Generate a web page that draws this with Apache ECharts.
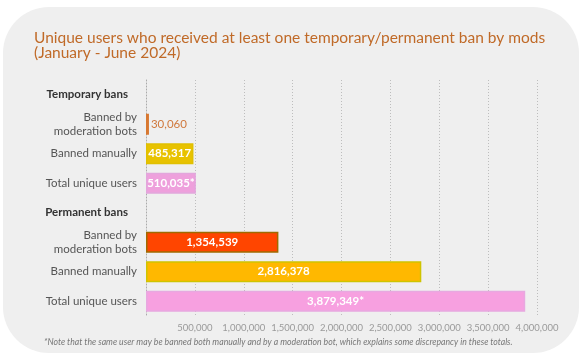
<!DOCTYPE html>
<html><head><meta charset="utf-8">
<script src="https://cdn.jsdelivr.net/npm/echarts@6/dist/echarts.min.js"></script>
<style>html,body{margin:0;padding:0;background:#fff}#c{width:582px;height:361px}</style>
</head><body><div id="c"></div>
<script>
var categories = ['Temporary bans','Banned by\nmoderation bots','Banned manually','Total unique users','Permanent bans','Banned by\nmoderation bots','Banned manually','Total unique users'];
var headerRows = [true,false,false,false,true,false,false,false];
var values = [null,30060,485317,510035,null,1354539,2816378,3879349];
var valueLabels = ['','30,060','485,317','510,035*','','1,354,539','2,816,378','3,879,349*'];
var barColors = [null,'#a9581c','#e8c200','#eea0dc',null,'#ff4500','#ffb800','#f7a0e0'];
var borderColors = [null,'#d87830','#e0c000','#e2a6dc',null,'#a06a00','#cfc400','#e8a8e0'];
var tickValues = [0,500000,1000000,1500000,2000000,2500000,3000000,3500000,4000000];

var data = values.map(function(v,i){
  if (v === null) return {value:'-'};
  var outside = i === 1;
  return {
    value: v,
    itemStyle: {color: barColors[i], borderColor: borderColors[i], borderWidth: 1.5},
    label: {
      show: true,
      position: outside ? 'right' : 'inside',
      distance: 2,
      formatter: valueLabels[i],
      color: outside ? '#d0783c' : '#ffffff',
      fontSize: 11.5,
      fontWeight: outside ? 'normal' : 'bold',
      fontFamily: 'Lato'
    }
  };
});

var chart = echarts.init(document.getElementById('c'), null, {renderer:'canvas'});
chart.setOption({
  animation: false,
  backgroundColor: '#ffffff',
  graphic: [{
    type: 'rect', z: -10, silent: true,
    shape: {x: 3, y: 7, width: 576, height: 346, r: 46},
    style: {fill: '#efefef'}
  },{
    type: 'text', z: 10, silent: true,
    style: {
      text: '*Note that the same user may be banned both manually and by a moderation bot, which explains some discrepancy in these totals.',
      x: 44, y: 342, fill: '#777', font: 'italic 8.7px Lato', textVerticalAlign: 'middle'
    }
  }],
  title: {
    text: 'Unique users who received at least one temporary/permanent ban by mods\n(January - June 2024)',
    left: 29, top: 26,
    textStyle: {color: '#c06a28', fontSize: 15.5, fontWeight: 'normal', fontFamily: 'Lato', lineHeight: 14.5}
  },
  grid: {left: 146, right: 45, top: 80, bottom: 45, containLabel: false},
  xAxis: {
    type: 'value', min: 0, max: 4000000, interval: 500000,
    axisLine: {show: false}, axisTick: {show: false},
    axisLabel: {
      showMinLabel: false, color: '#9a9a9a', fontSize: 9.5, fontFamily: 'Lato', margin: 7,
      formatter: function(v){ return v.toLocaleString('en-US'); }
    },
    splitLine: {show: true, lineStyle: {color: '#bdbdbd', type: [1,2], width: 1}}
  },
  yAxis: {
    type: 'category', data: categories, inverse: true,
    axisLine: {show: true, lineStyle: {color: '#aaa', type: [1,2], width: 1}},
    axisTick: {show: false},
    axisLabel: {
      margin: 9, color: '#555', fontSize: 11.5, fontFamily: 'Lato', lineHeight: 14,
      formatter: function(v, i){ return headerRows[i] ? '{h|' + v + '}' : v; },
      rich: {h: {fontWeight: 'bold', color: '#333', fontSize: 11.5, fontFamily: 'Lato', padding: [0,9,0,0]}}
    }
  },
  series: [{
    type: 'bar', data: data, barWidth: 21, barCategoryGap: '28%'
  }]
});
</script></body></html>
